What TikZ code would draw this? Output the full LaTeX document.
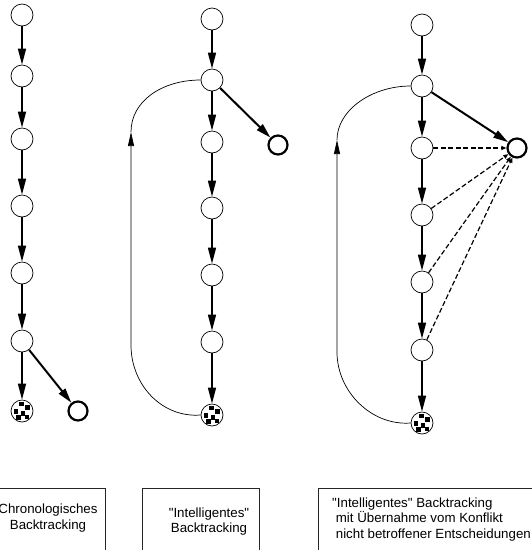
\documentclass[tikz,border=0pt]{standalone}
\usepackage{fontspec}
\setmainfont{Liberation Sans}[Ligatures=TeXOff]
\usetikzlibrary{arrows.meta}
% black squares inside a dead-end node
\newcommand\deadmarks[1]{%
  \begin{scope}[shift={(#1.center)}]
    \foreach \dx/\dy in {-3/5,3/1.5,-8.5/-2.5,-1.5/-4.5,-6/-8.5,2.5/-8}
      \fill (\dx pt,\dy pt) rectangle ++(4.5pt,4.5pt);
  \end{scope}}
\begin{document}
\begin{tikzpicture}[x=1pt,y=-1pt,
  state/.style={circle,draw,line width=0.7pt,minimum size=22pt,inner sep=0pt,fill=white},
  conflict/.style={circle,draw,line width=2.2pt,minimum size=19pt,inner sep=0pt},
  deadend/.style={state},
  edge/.style={line width=1.5pt,-{Triangle[length=16pt,width=8pt]}},
  conflictedge/.style={line width=2pt,-{Triangle[length=15pt,width=8pt]}},
  backjump/.style={line width=0.7pt,-{Triangle[length=14pt,width=6pt]}},
  plain/.style={line width=0.7pt},
  related/.style={line width=1.2pt,dash pattern=on 5pt off 2.5pt,
      -{Triangle[length=5pt,width=4pt]}},
  frame/.style={draw,line width=0.7pt,black!85,anchor=north west,inner sep=0pt},
  caption/.style={font=\fontsize{13.3}{15.5}\selectfont,inner sep=0pt}
]
\useasboundingbox (0,0) rectangle (532,550);
\clip (0,0) rectangle (532,550);

% ---- chronological backtracking ----
\foreach \i/\y in {1/15,2/76,3/139,4/206,5/273,6/341}
  \node[state] (a\i) at (22,\y) {};
\node[deadend] (a7) at (22,411) {};
\deadmarks{a7}
\node[conflict] (ac) at (78,411) {};
\foreach \i/\j in {1/2,2/3,3/4,4/5,5/6,6/7}
  \draw[edge] (a\i) -- (a\j);
\draw[conflictedge] (a6) -- (ac);

% ---- intelligent backtracking ----
\foreach \i/\y in {1/19,2/80,3/142,4/208,5/275,6/342}
  \node[state] (b\i) at (212,\y) {};
\node[deadend] (b7) at (212,415) {};
\deadmarks{b7}
\node[conflict] (bc) at (278,145) {};
\foreach \i/\j in {1/2,2/3,3/4,4/5,5/6,6/7}
  \draw[edge] (b\i) -- (b\j);
\draw[conflictedge] (b2) -- (bc);
\coordinate (bturn) at (131,132);
\draw[backjump] (b7.west) .. controls (162,418) and (131,385) .. (131,345) -- (bturn);
\draw[plain] (bturn) .. controls (131,101) and (162,80) .. (b2.west);

% ---- intelligent backtracking, keeping unrelated decisions ----
\foreach \i/\y in {1/25,2/86,3/148,4/215,5/282,6/350}
  \node[state] (c\i) at (422,\y) {};
\node[deadend] (c7) at (422,423) {};
\deadmarks{c7}
\node[conflict] (cc) at (517,148) {};
\foreach \i/\j in {1/2,2/3,3/4,4/5,5/6,6/7}
  \draw[edge] (c\i) -- (c\j);
\draw[conflictedge] (c2) -- (cc);
\foreach \i in {3,4,5,6}
  \draw[related] (c\i) -- (cc);
\coordinate (cturn) at (337,140);
\draw[backjump] (c7.west) .. controls (372,426) and (337,392) .. (337,352) -- (cturn);
\draw[plain] (cturn) .. controls (337,110) and (372,86) .. (c2.west);

% ---- captions ----
\node[frame,minimum width=120pt,minimum height=100pt] (f1) at (-15,488) {};
\node[caption,align=center,anchor=base] (t1) at (48,529)
  {Chronologisches\\Backtracking};
\node[frame,minimum width=117pt,minimum height=100pt] (f2) at (142,488) {};
\node[caption,align=center,anchor=base] (t2) at (209,532.5)
  {"Intelligentes"\\Backtracking};
\node[frame,minimum width=250pt,minimum height=100pt] (f3) at (318,488) {};
\node[caption,align=left,anchor=base west] (t3) at (332,538)
  {"Intelligentes" Backtracking\\\ mit Übernahme vom Konflikt\\\ nicht betroffener Entscheidungen};
\end{tikzpicture}
\end{document}
